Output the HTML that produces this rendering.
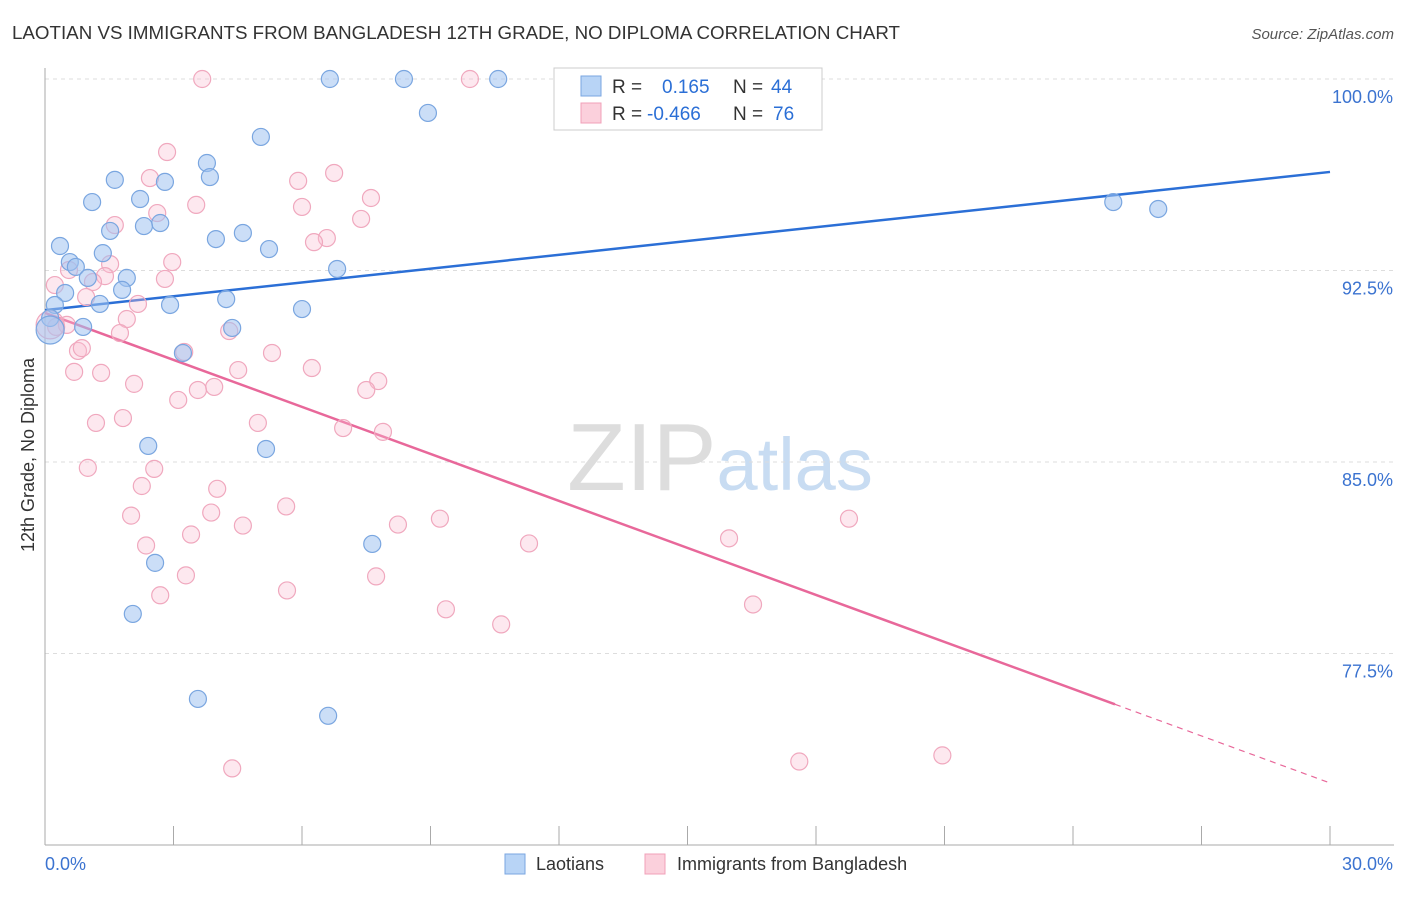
<!DOCTYPE html>
<html><head><meta charset="utf-8">
<style>
body{margin:0;background:#fff;font-family:"Liberation Sans",sans-serif;}
svg text{font-family:"Liberation Sans",sans-serif;}
</style></head>
<body>
<svg id="chart" width="1406" height="892" xmlns="http://www.w3.org/2000/svg">
<text x="12" y="39" font-size="18" fill="#333" textLength="888" lengthAdjust="spacingAndGlyphs">LAOTIAN VS IMMIGRANTS FROM BANGLADESH 12TH GRADE, NO DIPLOMA CORRELATION CHART</text>
<text x="1394" y="39" font-size="15" fill="#555" text-anchor="end" font-style="italic">Source: ZipAtlas.com</text>
<text x="720" y="490" font-size="96" fill="#ddd" text-anchor="middle" font-family="Liberation Serif">ZIP<tspan fill="#c8dcf2" font-family="Liberation Sans" font-size="74">atlas</tspan></text>
<text transform="translate(34,455) rotate(-90)" font-size="18" fill="#333" text-anchor="middle">12th Grade, No Diploma</text>
<g id="grid"></g><g id="axes"></g><g id="lines"></g><g id="pts"></g>
<g>
<rect x="554" y="68" width="268" height="62" fill="#fff" stroke="#ccc"/>
<rect x="581" y="76" width="20" height="20" fill="#b8d4f6" stroke="#7aa6e0"/>
<rect x="581" y="103" width="20" height="20" fill="#fbd0dc" stroke="#f0a0b8"/>
<text x="612" y="93" font-size="19" fill="#333">R =</text><text x="662" y="93" font-size="19" fill="#2b6fd6">0.165</text>
<text x="733" y="93" font-size="19" fill="#333">N =</text><text x="771" y="93" font-size="19" fill="#2b6fd6">44</text>
<text x="612" y="120" font-size="19" fill="#333">R =</text><text x="647" y="120" font-size="19" fill="#2b6fd6">-0.466</text>
<text x="733" y="120" font-size="19" fill="#333">N =</text><text x="773" y="120" font-size="19" fill="#2b6fd6">76</text>
</g>
<g>
<rect x="505" y="854" width="20" height="20" fill="#b8d4f6" stroke="#7aa6e0"/>
<text x="536" y="870" font-size="18" fill="#333">Laotians</text>
<rect x="645" y="854" width="20" height="20" fill="#fbd0dc" stroke="#f0a0b8"/>
<text x="677" y="870" font-size="18" fill="#333">Immigrants from Bangladesh</text>
</g>
</svg>
<script>
const yTicks=[100,92.5,85,77.5];
const xTickVals=[0,3,6,9,12,15,18,21,24,27,30];
const blueX=[6.65,8.38,10.58,8.94,5.04,3.78,3.85,1.63,2.80,1.10,2.22,2.69,2.31,1.52,0.35,3.99,4.62,5.23,1.35,0.58,0.72,1.00,1.91,6.82,1.80,0.47,1.28,2.92,4.23,6.00,0.23,0.12,0.89,4.37,3.22,2.41,5.16,7.64,2.57,2.05,3.57,6.61,24.94,25.99,0.12];
const blueY=[100,100,100,98.67,97.73,96.71,96.16,96.05,95.97,95.18,95.30,94.36,94.24,94.05,93.46,93.73,93.97,93.34,93.18,92.83,92.64,92.21,92.21,92.56,91.74,91.62,91.19,91.15,91.38,90.99,91.15,90.64,90.29,90.25,89.27,85.63,85.51,81.79,81.05,79.05,75.72,75.06,95.18,94.91,90.17];
const pinkX=[3.67,9.92,2.85,6.75,2.45,5.91,7.61,3.53,6.00,2.62,7.38,1.63,6.58,6.28,2.97,1.52,1.40,0.56,2.80,0.23,1.12,0.96,2.17,1.91,0.51,1.75,4.30,0.26,0.77,0.86,5.30,3.25,0.68,1.31,4.51,6.23,7.78,7.50,2.08,3.95,3.57,3.11,1.19,1.82,4.97,6.96,7.89,1.00,2.55,2.26,4.02,2.01,3.88,5.63,4.62,8.24,9.22,3.41,2.36,11.30,15.97,18.77,3.29,7.73,2.69,5.65,9.36,10.65,16.53,4.37,17.61,20.95,0.12];
const pinkY=[100,100,97.14,96.32,96.12,96.01,95.34,95.07,94.99,94.75,94.52,94.28,93.77,93.61,92.83,92.75,92.28,92.52,92.17,91.93,92.05,91.46,91.19,90.60,90.37,90.05,90.13,90.29,89.35,89.46,89.27,89.31,88.53,88.49,88.60,88.68,88.17,87.82,88.06,87.94,87.82,87.43,86.53,86.72,86.53,86.33,86.18,84.77,84.73,84.06,83.95,82.90,83.02,83.26,82.51,82.55,82.78,82.16,81.73,81.81,82.01,82.78,80.56,80.52,79.78,79.97,79.23,78.64,79.42,73.00,73.27,73.51,90.37];
const blueTrend=[90.95,96.36];
const pinkTrend=[90.84,72.43];
const pinkSolidEnd=24.98;
const NS="http://www.w3.org/2000/svg";
const sx=v=>45+v/30*1285;
const sy=v=>79+(100-v)/7.5*191.5;
function mk(tag,attrs,parent){const e=document.createElementNS(NS,tag);for(const k in attrs)e.setAttribute(k,attrs[k]);document.getElementById(parent).appendChild(e);return e;}
yTicks.forEach(t=>{
 const l=mk('line',{x1:45,x2:1394,y1:sy(t),y2:sy(t),stroke:'#ddd','stroke-dasharray':'4,4'},'grid');
 
 
 const tx=mk('text',{x:1393,y:sy(t)+24,'font-size':18,fill:'#3b73d0','text-anchor':'end'},'grid');
 tx.textContent=t.toFixed(1)+'%';
 
 
});
const ax=mk('line',{x1:45,x2:45,y1:68,y2:845,stroke:'#aaa'},'axes');


const bx=mk('line',{x1:45,x2:1394,y1:845,y2:845,stroke:'#aaa'},'axes');


xTickVals.forEach(t=>{const l=mk('line',{x1:sx(t),x2:sx(t),y1:826,y2:845,stroke:'#aaa'},'axes');
 
 });
[[0,'0.0%',45,'start'],[30,'30.0%',1393,'end']].forEach(a=>{const t=mk('text',{x:a[2],y:870,'font-size':18,fill:'#3b73d0','text-anchor':a[3]},'axes');t.textContent=a[1];
 
 });
function pts(xs,ys,fill,stroke,name){xs.forEach((x,i)=>{const big=i===xs.length-1;
 const c=mk('circle',{cx:sx(x),cy:sy(ys[i]),r:big?14:8.5,fill:fill,stroke:stroke,'stroke-width':1.2},'pts');
 
 });}
pts(pinkX,pinkY,'rgba(248,190,208,0.35)','#f0a8be','bangladesh-point');
pts(blueX,blueY,'rgba(160,195,240,0.55)','#7aa6e0','laotian-point');
const b=mk('line',{x1:sx(0),y1:sy(blueTrend[0]),x2:sx(30),y2:sy(blueTrend[1]),stroke:'#2b6fd6','stroke-width':2.5},'lines');


const pyAt=x=>pinkTrend[0]+(pinkTrend[1]-pinkTrend[0])*x/30;
const p=mk('line',{x1:sx(0),y1:sy(pinkTrend[0]),x2:sx(pinkSolidEnd),y2:sy(pyAt(pinkSolidEnd)),stroke:'#e8689a','stroke-width':2.5},'lines');


const pd=mk('line',{x1:sx(pinkSolidEnd),y1:sy(pyAt(pinkSolidEnd)),x2:sx(30),y2:sy(pinkTrend[1]),stroke:'#e8689a','stroke-width':1.2,'stroke-dasharray':'6,5'},'lines');


</script>
</body></html>
